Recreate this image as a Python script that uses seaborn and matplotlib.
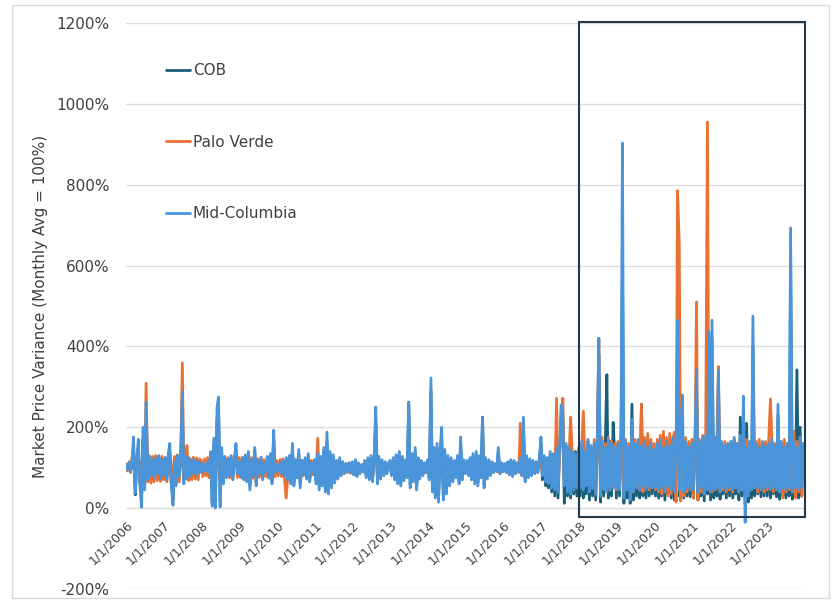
import matplotlib
matplotlib.use("Agg")
import matplotlib.pyplot as plt
import matplotlib.dates as mdates
from matplotlib.patches import Rectangle
from matplotlib.ticker import FuncFormatter
import seaborn as sns
import pandas as pd

# semi-monthly samples, one row per year (2006 .. 2023), values in % of monthly avg
cob = [
    105, 95, 110, 92, 112, 150, 33, 115, 150, 70, 20, 170, 55, 220, 75, 120, 82, 115, 80, 118, 85, 120, 80, 115,
    85, 118, 78, 125, 140, 70, 20, 110, 62, 122, 82, 118, 250, 70, 120, 80, 118, 85, 115, 88, 115, 86, 112, 90,
    110, 92, 105, 95, 112, 90, 130, 15, 160, 10, 220, 250, 15, 135, 70, 120, 80, 118, 85, 122, 78, 115, 145, 88,
    112, 82, 118, 78, 125, 72, 130, 55, 115, 85, 140, 62, 112, 88, 120, 76, 108, 92, 120, 80, 125, 68, 170, 90,
    105, 95, 108, 90, 112, 85, 118, 78, 122, 70, 145, 65, 115, 80, 135, 60, 112, 85, 118, 78, 125, 72, 108, 90,
    115, 68, 125, 55, 120, 62, 140, 50, 165, 45, 130, 58, 125, 68, 112, 78, 118, 84, 110, 88, 108, 92, 110, 90,
    110, 86, 115, 82, 108, 88, 105, 92, 112, 80, 118, 76, 122, 72, 125, 220, 68, 120, 78, 115, 84, 110, 88, 108,
    112, 84, 118, 76, 125, 68, 130, 62, 120, 74, 115, 80, 262, 58, 125, 70, 140, 52, 118, 78, 112, 84, 108, 90,
    115, 75, 290, 48, 140, 32, 150, 25, 130, 180, 30, 135, 42, 122, 62, 118, 70, 112, 80, 122, 66, 160, 76, 112,
    88, 112, 84, 118, 76, 128, 68, 130, 62, 122, 80, 225, 58, 118, 78, 112, 84, 110, 90, 106, 94, 140, 88, 108,
    92, 106, 90, 110, 86, 115, 82, 112, 88, 108, 92, 118, 84, 200, 72, 122, 80, 116, 84, 112, 88, 110, 90, 115,
    160, 70, 125, 55, 120, 50, 135, 40, 130, 30, 150, 25, 140, 230, 215, 12, 155, 30, 145, 25, 135, 35, 140, 30,
    145, 30, 160, 25, 135, 35, 165, 20, 150, 30, 155, 20, 170, 380, 15, 165, 30, 150, 330, 25, 165, 30, 212, 140,
    25, 155, 30, 170, 600, 12, 160, 25, 145, 12, 257, 20, 155, 30, 165, 25, 257, 30, 160, 25, 150, 30, 155, 35,
    140, 30, 155, 25, 165, 30, 145, 20, 160, 35, 150, 25, 170, 20, 155, 300, 30, 165, 200, 25, 160, 30, 150, 28,
    150, 25, 165, 300, 20, 160, 30, 170, 18, 175, 35, 400, 20, 420, 25, 170, 30, 320, 22, 160, 35, 150, 25, 155,
    30, 160, 25, 170, 35, 155, 20, 225, 30, 230, 10, 210, 15, 160, 25, 400, 30, 155, 35, 150, 28, 160, 30, 150,
    30, 155, 25, 165, 35, 150, 28, 230, 22, 160, 30, 150, 25, 155, 30, 600, 22, 160, 35, 342, 25, 200, 30, 150,
]

palo_verde = [
    110, 92, 115, 88, 125, 130, 70, 128, 132, 65, 110, 130, 62, 309, 65, 130, 62, 128, 65, 130, 68, 125, 66, 128,
    70, 125, 65, 130, 128, 62, 85, 128, 60, 132, 65, 128, 359, 70, 125, 155, 68, 122, 70, 126, 72, 124, 70, 122,
    118, 78, 122, 80, 125, 75, 130, 72, 128, 75, 130, 126, 72, 128, 75, 126, 78, 125, 75, 128, 74, 126, 130, 76,
    125, 75, 126, 72, 128, 70, 130, 68, 125, 74, 132, 70, 122, 76, 126, 72, 120, 78, 124, 74, 126, 70, 130, 78,
    118, 80, 120, 78, 122, 76, 25, 74, 124, 72, 125, 70, 120, 76, 122, 70, 118, 80, 120, 76, 122, 74, 118, 82,
    115, 80, 173, 70, 120, 75, 125, 70, 130, 72, 122, 75, 118, 78, 115, 82, 118, 84, 112, 86, 110, 88, 112, 86,
    112, 85, 115, 82, 110, 86, 108, 90, 114, 82, 118, 78, 120, 76, 118, 150, 80, 118, 80, 115, 84, 112, 86, 110,
    114, 84, 118, 80, 120, 78, 122, 76, 118, 80, 115, 82, 180, 78, 120, 80, 122, 78, 118, 82, 115, 84, 112, 88,
    115, 80, 200, 75, 125, 70, 128, 68, 122, 150, 72, 125, 75, 120, 78, 118, 80, 115, 82, 118, 78, 140, 80, 115,
    88, 115, 85, 118, 82, 122, 78, 125, 75, 120, 80, 160, 72, 118, 80, 115, 84, 112, 88, 110, 90, 125, 86, 112,
    90, 110, 88, 112, 85, 115, 82, 115, 86, 112, 88, 210, 80, 170, 78, 122, 78, 118, 82, 115, 86, 112, 88, 118,
    130, 82, 122, 78, 120, 75, 128, 70, 125, 68, 272, 65, 130, 200, 272, 60, 140, 55, 135, 225, 130, 60, 128, 65,
    140, 55, 160, 240, 130, 60, 165, 45, 150, 55, 170, 40, 160, 420, 45, 175, 50, 160, 40, 175, 45, 165, 55, 160,
    45, 165, 50, 175, 200, 40, 170, 45, 160, 35, 180, 40, 170, 50, 165, 45, 257, 40, 175, 50, 185, 45, 170, 50,
    160, 45, 170, 40, 180, 35, 190, 40, 175, 30, 185, 35, 170, 188, 15, 785, 653, 18, 200, 30, 175, 40, 165, 45,
    170, 25, 175, 510, 20, 170, 40, 180, 35, 185, 955, 45, 175, 40, 170, 45, 165, 350, 40, 160, 45, 165, 40, 160,
    45, 165, 40, 170, 50, 160, 40, 175, 45, 190, 45, 170, 40, 160, 45, 200, 50, 165, 40, 170, 45, 160, 40, 165,
    45, 170, 270, 165, 40, 160, 45, 175, 40, 165, 25, 170, 40, 160, 45, 180, 40, 190, 25, 165, 40, 175, 30, 160,
]

mid_columbia = [
    108, 95, 112, 90, 118, 176, 37, 120, 170, 60, 2, 200, 45, 262, 70, 128, 80, 118, 75, 125, 85, 130, 72, 120,
    80, 125, 70, 135, 160, 60, 7, 115, 55, 130, 78, 122, 288, 60, 130, 72, 125, 80, 118, 85, 120, 82, 115, 88,
    112, 90, 108, 92, 115, 88, 140, 5, 173, 0, 250, 275, 3, 150, 60, 128, 75, 122, 80, 130, 70, 118, 160, 85,
    115, 78, 125, 70, 132, 65, 140, 45, 120, 80, 150, 55, 118, 85, 125, 70, 110, 90, 128, 75, 135, 60, 193, 88,
    108, 92, 112, 85, 118, 80, 125, 70, 130, 60, 160, 55, 120, 75, 145, 50, 118, 82, 125, 72, 135, 65, 112, 88,
    120, 60, 135, 45, 128, 55, 150, 40, 188, 35, 140, 50, 132, 62, 118, 72, 125, 80, 115, 85, 110, 90, 112, 88,
    115, 82, 120, 78, 112, 85, 108, 90, 118, 75, 125, 70, 130, 65, 135, 250, 60, 128, 72, 120, 80, 115, 85, 110,
    118, 80, 125, 70, 132, 60, 140, 55, 128, 68, 120, 75, 260, 50, 135, 65, 150, 45, 125, 72, 118, 80, 112, 88,
    120, 70, 322, 40, 150, 25, 160, 15, 140, 200, 20, 145, 35, 130, 55, 125, 65, 118, 75, 130, 60, 176, 70, 120,
    85, 118, 80, 125, 70, 135, 60, 140, 55, 130, 75, 223, 50, 125, 72, 120, 80, 115, 88, 110, 92, 150, 85, 112,
    90, 110, 88, 115, 82, 120, 78, 118, 85, 112, 90, 125, 80, 225, 65, 130, 75, 122, 80, 118, 85, 115, 88, 120,
    176, 80, 130, 65, 125, 60, 140, 50, 135, 45, 150, 40, 145, 255, 230, 55, 160, 40, 150, 35, 140, 45, 135, 50,
    150, 50, 165, 45, 140, 55, 170, 40, 155, 48, 160, 35, 175, 420, 30, 165, 45, 150, 40, 170, 45, 160, 50, 150,
    50, 160, 45, 175, 903, 25, 165, 45, 150, 20, 220, 40, 160, 50, 170, 45, 155, 55, 165, 45, 150, 50, 160, 50,
    145, 50, 160, 45, 170, 50, 150, 40, 165, 55, 155, 45, 175, 40, 160, 465, 45, 170, 280, 40, 165, 50, 150, 45,
    160, 45, 170, 342, 40, 165, 50, 175, 35, 180, 45, 436, 40, 465, 45, 175, 50, 340, 40, 165, 50, 155, 45, 160,
    50, 165, 45, 175, 50, 160, 40, 180, 45, 277, -35, 150, 30, 165, 45, 475, 50, 160, 50, 150, 45, 165, 50, 155,
    50, 160, 45, 170, 50, 155, 45, 257, 40, 165, 50, 150, 45, 160, 50, 693, 40, 165, 50, 150, 45, 175, 50, 160,
]

series_names = ["COB", "Palo Verde", "Mid-Columbia"]
colors = ["#1a5f7a", "#e97132", "#4a94da"]
year_ticks = list(range(2006, 2024))

assert len(cob) == len(palo_verde) == len(mid_columbia)
dates = pd.date_range("2006-01-01", periods=len(cob), freq="SMS")

df = pd.concat([
    pd.DataFrame({"date": dates, "value": vals, "series": name})
    for name, vals in zip(series_names, [cob, palo_verde, mid_columbia])
])

sns.set_style("white")
fig = plt.figure(figsize=(8.32, 6.03), dpi=100)
ax = fig.add_axes([0.1514, 0.0232, 0.8161, 0.9387])

sns.lineplot(data=df, x="date", y="value", hue="series", hue_order=series_names,
             palette=colors, linewidth=2.0, estimator=None, ax=ax)

ax.set_ylim(-200, 1200)
ax.set_yticks(range(-200, 1201, 200))
ax.yaxis.set_major_formatter(FuncFormatter(lambda v, p: f"{v:.0f}%"))
ax.set_xlim(pd.Timestamp("2006-01-01"), pd.Timestamp("2024-01-01"))
ax.set_xticks([pd.Timestamp(f"{y}-01-01") for y in year_ticks])
ax.xaxis.set_major_formatter(mdates.DateFormatter("1/1/%Y"))

ax.grid(axis="y", color="#dedede", linewidth=1)
ax.set_axisbelow(True)
for s in ["left", "right", "top"]:
    ax.spines[s].set_visible(False)
ax.spines["bottom"].set_position(("data", 0))
ax.spines["bottom"].set_color("#d9d9d9")
ax.spines["bottom"].set_zorder(0.5)

ax.tick_params(axis="y", length=0, pad=12, labelsize=11, labelcolor="#404040")
ax.tick_params(axis="x", length=5, color="#d9d9d9", labelsize=9, labelcolor="#404040", pad=2)
for lab in ax.get_xticklabels():
    lab.set_rotation(45)
    lab.set_ha("right")
    lab.set_rotation_mode("anchor")

ax.set_xlabel("")
ax.set_ylabel("Market Price Variance (Monthly Avg = 100%)", fontsize=11, color="#404040", labelpad=6)

leg = ax.legend(loc="upper left", bbox_to_anchor=(0.05, 0.94), frameon=False, fontsize=11,
                labelspacing=3.7, handlelength=1.6, handletextpad=0.15, borderaxespad=0)
for t in leg.get_texts():
    t.set_color("#404040")

# highlight box over 2018-2023
ax.add_patch(Rectangle((0.667, 0.127), 0.333, 0.875, transform=ax.transAxes, fill=False,
                       edgecolor="#24394a", linewidth=1.5, clip_on=False, zorder=5))

# outer chart border
fig.patches.append(Rectangle((12 / 832, 5 / 603), 817 / 832, 593 / 603, transform=fig.transFigure,
                             fill=False, edgecolor="#d9d9d9", linewidth=1))

fig.savefig("out.png", dpi=100)
